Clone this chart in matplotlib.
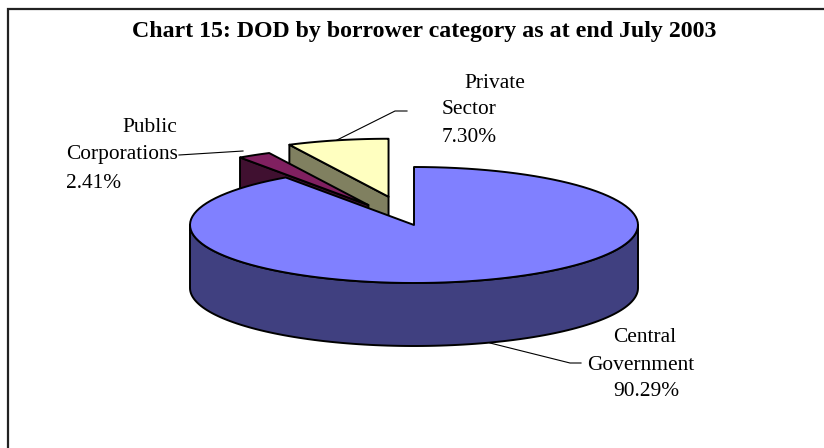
import numpy as np
import matplotlib.pyplot as plt
from matplotlib.patches import Polygon

plt.rcParams['font.family'] = ['Liberation Serif', 'DejaVu Serif']

# data
categories = ["Central Government", "Public Corporations", "Private Sector"]
shares = [90.29, 2.41, 7.30]
explode = [0.0, 0.40, 0.50]
top_colors = ["#8080FF", "#802060", "#FFFFC0"]
side_colors = ["#404080", "#401030", "#808060"]

title = "Chart 15: DOD by borrower category as at end July 2003"

# pie geometry in pixel space (y grows downward)
cx, cy = 414, 225
rx, ry = 224, 58
depth = 63
start = 90.0

W, H = 824, 448
fig = plt.figure(figsize=(W / 100, H / 100), dpi=100)
ax = fig.add_axes([0, 0, 1, 1])
ax.set_xlim(0, W)
ax.set_ylim(H, 0)
ax.axis('off')


def point(t, r, off, z=0.0):
    a = np.radians(t)
    x = cx + rx * (r * np.cos(a) + off[0])
    y = cy - ry * (r * np.sin(a) + off[1]) + z
    return x, y


def arc(t0, t1, off, z=0.0, n=120):
    ts = np.linspace(t0, t1, n)
    return [point(t, 1.0, off, z) for t in ts]


# slice angles, clockwise from 12 o'clock
slices = []
t = start
for name, v, e, ct, cs in zip(categories, shares, explode, top_colors, side_colors):
    t1 = t
    t0 = t - 360.0 * v / 100.0
    mid = np.radians((t0 + t1) / 2)
    off = (e * np.cos(mid), e * np.sin(mid))
    slices.append(dict(name=name, t0=t0, t1=t1, off=off, top=ct, side=cs))
    t = t0

# far slices first
slices.sort(key=lambda s: -s['off'][1])

ec = 'black'
lw = 1.4
for s in slices:
    t0, t1, off = s['t0'], s['t1'], s['off']
    apex = point(0, 0, off)
    apex_b = point(0, 0, off, depth)
    # radial cut faces facing the viewer
    for edge, visible in ((t0, np.cos(np.radians(t0)) > 1e-6),
                          (t1, np.cos(np.radians(t1)) < -1e-6)):
        if visible:
            o = point(edge, 1.0, off)
            ob = point(edge, 1.0, off, depth)
            ax.add_patch(Polygon([apex, o, ob, apex_b], closed=True,
                                 facecolor=s['side'], edgecolor=ec, lw=lw,
                                 joinstyle='round'))
    # outer wall, front half only
    for k in (-1, 0, 1):
        lo = max(t0, -180 + 360 * k)
        hi = min(t1, 0 + 360 * k)
        if hi > lo:
            pts = arc(lo, hi, off) + arc(hi, lo, off, depth)
            ax.add_patch(Polygon(pts, closed=True, facecolor=s['side'],
                                 edgecolor=ec, lw=lw, joinstyle='round'))
    # top face
    pts = [apex] + arc(t0, t1, off)
    ax.add_patch(Polygon(pts, closed=True, facecolor=s['top'],
                         edgecolor=ec, lw=lw, joinstyle='round'))

# labels and leader lines
fs = 15.4
vals = dict(zip(categories, shares))

ax.text(495, 83, "Private", fontsize=fs, ha='center', va='center')
ax.text(442, 110, "Sector", fontsize=fs, ha='left', va='center')
ax.text(442, 138, f"{vals['Private Sector']:.2f}%", fontsize=fs, ha='left', va='center')
ax.plot([407, 395, 337], [111, 111, 140], color='black', lw=0.8)

ax.text(177, 127, "Public", fontsize=fs, ha='right', va='center')
ax.text(66, 155, "Corporations", fontsize=fs, ha='left', va='center')
ax.text(66, 183, f"{vals['Public Corporations']:.2f}%", fontsize=fs, ha='left', va='center')
ax.plot([179, 243], [155, 151], color='black', lw=0.8)

ax.text(645, 338, "Central", fontsize=fs, ha='center', va='center')
ax.text(641, 365, "Government", fontsize=fs, ha='center', va='center')
ax.text(646, 392, f"{vals['Central Government']:.2f}%", fontsize=fs, ha='center', va='center')
ax.plot([490, 570, 581], [343, 363, 363], color='black', lw=0.8)

ax.text(424, 31, title, fontsize=17.2, fontweight='bold', ha='center', va='center')

# chart frame (top and left edges)
ax.plot([8, 8, W], [H, 9, 9], color='#222222', lw=1.6, solid_joinstyle='miter')

fig.savefig("out.png", dpi=100)
